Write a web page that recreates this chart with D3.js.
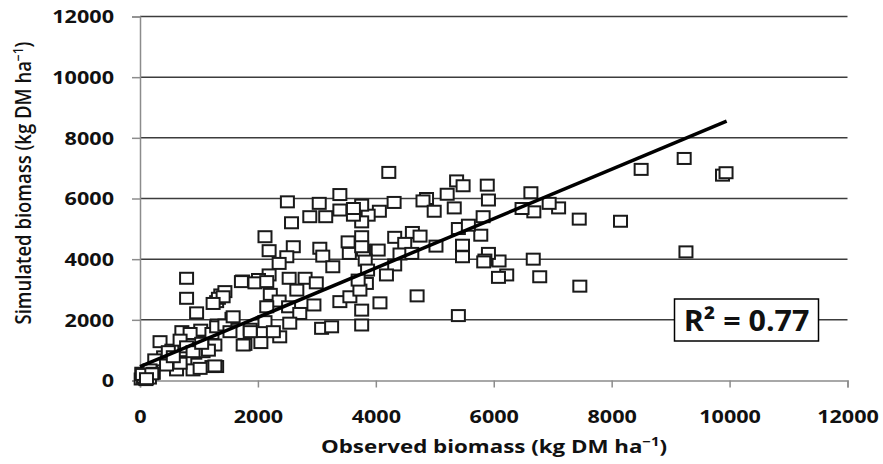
<!DOCTYPE html>
<html>
<head>
<meta charset="utf-8">
<script src="https://cdn.jsdelivr.net/npm/d3@7"></script>
<style>
  body { margin: 0; background: #fff; }
  svg { display: block; }
  text { font-family: "Open Sans", "Liberation Sans", sans-serif; }
</style>
</head>
<body>
<svg id="chart" width="883" height="464"></svg>
<script>
// observed (x) and simulated (y) biomass, kg DM/ha
var observed = [
  9230, 8500, 9880, 9940, 8150, 9260, 7460, 6780, 6670, 7450, 7100, 6940, 6630, 6680, 6480, 6220, 6080, 6090, 5910, 5850, 5890, 5910, 5820, 5780,
  4220, 5370, 5480, 5210, 4860, 4800, 4990, 5330, 4310, 4060, 3870, 3760, 3760, 5400, 5570, 5470, 5470, 5830, 4620, 4750, 4320, 4490, 5020, 4040, 4410, 4610, 4320, 4180, 3820, 3840, 4070, 4700, 5400, 3760, 3760,
  3390, 2500, 3040, 2880, 3150, 2570, 3390, 3620, 3620, 2120, 2190, 2600, 2490, 3050, 3100, 3530, 3550, 3270, 2360, 2190, 1740, 2010, 2530, 2800, 2990, 2660, 2210, 2360, 2950, 3390, 3560, 2150, 2520, 2710, 2540, 2120, 1870, 3080, 3250, 1780, 2050, 2370, 3860, 3760, 3790, 3730, 3700, 3760,
  790, 790, 960, 710, 1030, 340, 1310, 1370, 1440, 1300, 1720, 1560, 1750, 930, 400, 540, 760, 1070, 1220, 900, 620, 400, 250, 85, 30, 170, 1100, 1220, 1270, 850, 680, 1300, 1300, 1330, 1410, 1950, 2150, 1440, 1240, 1580, 1870, 790, 450, 680, 900, 1160, 1270, 226, 1020,
  480, 565, 1046, 1526, 2262,
  20, 60, 100, 130, 160, 40, 200, 110
];
var simulated = [
  7320, 6960, 6770, 6850, 5250, 4240, 3110, 3420, 4000, 5320, 5690, 5840, 6190, 5560, 5670, 3480, 3400, 3940, 4190, 3970, 6440, 5950, 5400, 4790,
  6860, 6580, 6420, 6140, 6000, 5920, 5580, 5690, 5870, 5580, 5450, 5780, 5230, 5010, 5120, 4460, 4080, 3910, 4880, 4760, 4720, 4520, 4430, 4300, 4170, 4190, 3810, 3480, 3970, 3200, 2560, 2790, 2140, 2320, 1830,
  6130, 5890, 5840, 5400, 5400, 5200, 5620, 5450, 5670, 4740, 4280, 4410, 4080, 4360, 4100, 4570, 4190, 3750, 3860, 3480, 3280, 3330, 3370, 3370, 3220, 2980, 2840, 2620, 2490, 2600, 2760, 2430, 2430, 2210, 1890, 1940, 1690, 1720, 1770, 1190, 1250, 1440, 3640, 4740, 4300, 2980, 3310, 4410,
  3370, 2710, 2230, 1610, 1660, 1280, 1830, 2820, 2930, 2600, 3260, 2050, 1170, 900, 780, 1000, 620, 950, 460, 350, 350, 570, 680, 125, 240, 350, 1280, 1550, 1170, 1550, 1330, 1770, 460, 2710, 2760, 3220, 3260, 1830, 2540, 2100, 1610, 1110, 510, 570, 950, 1000, 480, 237, 400,
  950, 784, 1226, 1609, 1609,
  50, 100, 30, 150, 80, 200, 220, 60
];
// fitted line endpoints
var fitX = [0, 9950];
var fitY = [455, 8550];
var xTicks = [0, 2000, 4000, 6000, 8000, 10000, 12000];
var yTicks = [0, 2000, 4000, 6000, 8000, 10000, 12000];
var r2Label = "R² = 0.77";

(function () {
  var svg = d3.select("#chart");
  var mLeft = 140, mRight = 847.5, mTop = 16.5, mBottom = 380.5;

  var xScale = d3.scaleLinear().domain([0, 12000]).range([mLeft, mRight]);
  var yScale = d3.scaleLinear().domain([0, 12000]).range([mBottom, mTop]);

  // gridlines
  svg.append("g").selectAll("line")
    .data(yTicks.filter(function (d) { return d != 0; }))
    .enter().append("line")
    .attr("x1", mLeft).attr("x2", mRight)
    .attr("y1", function (d) { return yScale(d); })
    .attr("y2", function (d) { return yScale(d); })
    .attr("stroke", "#3c3c3c")
    .attr("stroke-width", 1.5);

  var axisColor = "#8c8c8c";
  var fmt = d3.format("d");

  var yAxis = d3.axisLeft(yScale).tickValues(yTicks).tickFormat(fmt).tickSize(8).tickPadding(0);
  var gy = svg.append("g").attr("transform", "translate(" + mLeft + ",0)").call(yAxis);

  var xAxis = d3.axisBottom(xScale).tickValues(xTicks).tickFormat(fmt).tickSize(7).tickPadding(0);
  var gx = svg.append("g").attr("transform", "translate(0," + mBottom + ")").call(xAxis);

  [gx, gy].forEach(function (g) {
    g.select(".domain").attr("stroke", axisColor).attr("stroke-width", 1.5);
    g.selectAll(".tick line").attr("stroke", axisColor).attr("stroke-width", 1.5);
    g.selectAll(".tick text")
      .attr("fill", "#111")
      .style("font-size", "18px")
      .style("font-weight", "700");
  });
  // labels are drawn a bit wide, like the source picture
  gy.selectAll(".tick text")
    .attr("x", 0).attr("dy", "0.35em")
    .attr("transform", "translate(-26,0) scale(1.2,1)");
  gx.selectAll(".tick text")
    .attr("y", 0).attr("dy", 0)
    .attr("transform", "translate(0,42) scale(1.2,1)");

  // points
  svg.append("g").selectAll("rect")
    .data(observed.map(function (d, i) { return [d, simulated[i]]; }))
    .enter().append("rect")
    .attr("x", function (d) { return xScale(d[0]) - 6.5; })
    .attr("y", function (d) { return yScale(d[1]) - 5.5; })
    .attr("width", 13)
    .attr("height", 11)
    .attr("fill", "#fff")
    .attr("stroke", "#1a1a1a")
    .attr("stroke-width", 2);

  // trend line
  var line = d3.line()
    .x(function (d) { return xScale(d[0]); })
    .y(function (d) { return yScale(d[1]); });
  svg.append("path")
    .datum(fitX.map(function (d, i) { return [d, fitY[i]]; }))
    .attr("d", line)
    .attr("fill", "none")
    .attr("stroke", "#000")
    .attr("stroke-width", 3.5);

  // R2 box
  var box = svg.append("g");
  box.append("rect")
    .attr("x", 674.5).attr("y", 299)
    .attr("width", 144).attr("height", 42)
    .attr("fill", "#fff")
    .attr("stroke", "#000")
    .attr("stroke-width", 1.5);
  box.append("text")
    .attr("transform", "translate(746.5,331) scale(1.05,1)")
    .attr("text-anchor", "middle")
    .style("font-size", "29px")
    .style("font-weight", "700")
    .attr("fill", "#111")
    .text(r2Label);

  // axis titles
  var xt = svg.append("text")
    .attr("transform", "translate(494,453) scale(1.24,1)")
    .attr("text-anchor", "middle")
    .style("font-size", "18px")
    .style("font-weight", "700")
    .attr("fill", "#111");
  xt.append("tspan").text("Observed biomass (kg DM ha");
  xt.append("tspan").attr("dy", -7).style("font-size", "12px").text("−1");
  xt.append("tspan").attr("dy", 7).text(")");

  var yt = svg.append("text")
    .attr("transform", "translate(31,183) rotate(-90) scale(1,1.15)")
    .attr("text-anchor", "middle")
    .style("font-size", "18.5px")
    .style("font-weight", "600")
    .attr("fill", "#111");
  yt.append("tspan").text("Simulated biomass (kg DM ha");
  yt.append("tspan").attr("dy", -7).style("font-size", "12px").text("−1");
  yt.append("tspan").attr("dy", 7).text(")");
})();
</script>
</body>
</html>
